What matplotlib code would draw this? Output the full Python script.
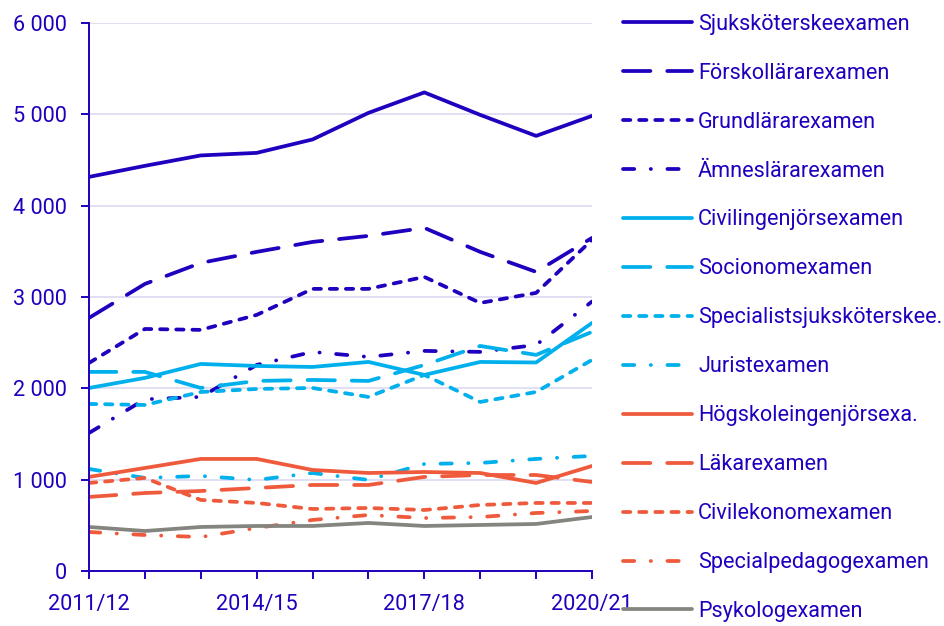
import matplotlib.pyplot as plt
from matplotlib.ticker import FuncFormatter

plt.rcParams['font.family'] = ['Roboto', 'DejaVu Sans']
plt.rcParams['lines.dash_capstyle'] = 'round'
plt.rcParams['lines.solid_capstyle'] = 'round'

years = ["2011/12", "2012/13", "2013/14", "2014/15", "2015/16",
         "2016/17", "2017/18", "2018/19", "2019/20", "2020/21"]

sjukskoterske = [4315, 4436, 4550, 4578, 4725, 5016, 5240, 4994, 4764, 4983]
forskollarare = [2771, 3143, 3373, 3494, 3603, 3669, 3757, 3494, 3275, 3647]
grundlarare = [2278, 2650, 2640, 2804, 3089, 3089, 3220, 2935, 3045, 3625]
amneslarare = [1511, 1880, 1906, 2256, 2399, 2344, 2410, 2399, 2475, 2950]
civilingenjor = [2004, 2114, 2267, 2245, 2234, 2289, 2147, 2289, 2283, 2716]
socionom = [2180, 2180, 2004, 2081, 2092, 2081, 2256, 2464, 2366, 2618]
specialistsjuk = [1829, 1818, 1960, 1993, 2004, 1906, 2147, 1851, 1960, 2311]
jurist = [1117, 1019, 1041, 997, 1073, 997, 1172, 1183, 1227, 1260]
hogskoleingenjor = [1030, 1128, 1227, 1227, 1106, 1073, 1084, 1073, 964, 1150]
lakare = [811, 854, 876, 909, 942, 942, 1030, 1051, 1051, 975]
civilekonom = [964, 1019, 778, 745, 679, 690, 668, 723, 745, 745]
specialpedagog = [427, 394, 372, 471, 559, 613, 580, 591, 635, 657]
psykolog = [482, 438, 482, 493, 493, 526, 493, 504, 515, 591]

labels = ["Sjuksköterskeexamen", "Förskollärarexamen", "Grundlärarexamen",
          "Ämneslärarexamen", "Civilingenjörsexamen", "Socionomexamen",
          "Specialistsjuksköterskee.", "Juristexamen", "Högskoleingenjörsexa.",
          "Läkarexamen", "Civilekonomexamen", "Specialpedagogexamen",
          "Psykologexamen"]
series = [sjukskoterske, forskollarare, grundlarare, amneslarare,
          civilingenjor, socionom, specialistsjuk, jurist,
          hogskoleingenjor, lakare, civilekonom, specialpedagog, psykolog]

dark = "#1e00be"
light = "#00b0ec"
orange = "#f05a3c"
gray = "#85857f"
colors = [dark] * 4 + [light] * 4 + [orange] * 4 + [gray]

solid = (0, ())
long_dash = (0, (7.3, 4.5))
short_dash = (0, (1.95, 2.35))
dash_dot = (0, (3.0, 4.4, 0.05, 4.4))
styles = [solid, long_dash, short_dash, dash_dot] * 3 + [solid]

fig = plt.figure(figsize=(9.44, 6.26), dpi=100)
ax = fig.add_axes([89 / 944, 1 - 571 / 626, (592 - 89) / 944, (571 - 23) / 626])

x = list(range(len(years)))
for vals, lab, col, ls in zip(series, labels, colors, styles):
    ax.plot(x, vals, color=col, linestyle=ls, lw=2.7, label=lab)

ax.set_xlim(0, len(years) - 1)
ax.set_ylim(0, 6000)
ax.set_yticks(range(0, 6001, 1000))
ax.yaxis.set_major_formatter(FuncFormatter(lambda v, p: f"{int(v):,}".replace(",", " ")))
ax.set_xticks(x)
ax.set_xticklabels([y if i % 3 == 0 else "" for i, y in enumerate(years)])

ax.grid(axis='y', color="#d8d6f0", lw=1.1)
ax.set_axisbelow(True)
for s in ["top", "right"]:
    ax.spines[s].set_visible(False)
for s in ["left", "bottom"]:
    ax.spines[s].set_color(dark)
    ax.spines[s].set_linewidth(1.4)
ax.tick_params(axis='both', colors=dark, labelcolor=dark, labelsize=15.6,
               length=5.8, width=1.4)
ax.tick_params(axis='y', pad=10)
ax.tick_params(axis='x', pad=11)

leg = fig.legend(loc="upper left", bbox_to_anchor=(614 / 944, 0.992),
                 frameon=False, fontsize=15.6, handlelength=3.2,
                 handletextpad=0.28, labelspacing=1.29, borderaxespad=0)
for t in leg.get_texts():
    t.set_color(dark)

fig.savefig("out.png", dpi=100)
